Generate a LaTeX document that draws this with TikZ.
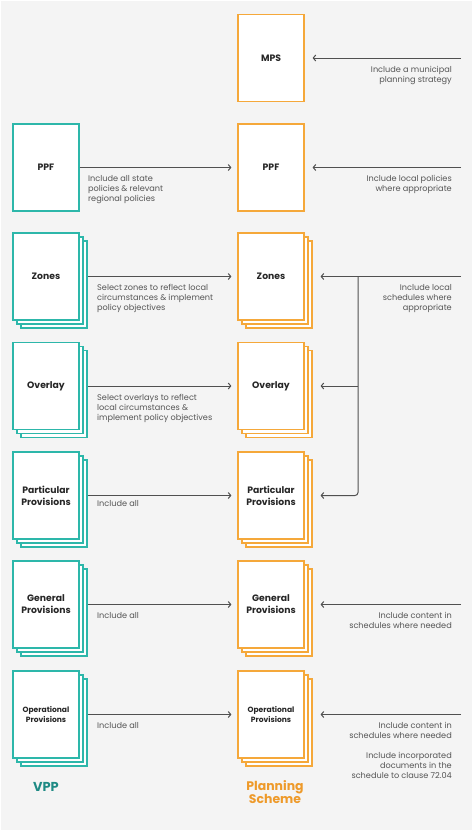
\documentclass[tikz,border=0pt]{standalone}
\usepackage{fontspec}
\setmainfont{Poppins}
\usetikzlibrary{arrows.meta,shadows}
\definecolor{vteal}{HTML}{2DB7AA}
\definecolor{vtealdk}{HTML}{1E8A84}
\definecolor{porange}{HTML}{F5A83A}
\definecolor{porangedk}{HTML}{EE9A2A}
\definecolor{bggray}{HTML}{F4F4F4}
\definecolor{arrgray}{HTML}{505050}
\definecolor{txtgray}{HTML}{555555}
\begin{document}
\begin{tikzpicture}[x=1bp,y=-1bp,
  doc/.style={draw, fill=white, line width=1.2bp, minimum width=66bp, minimum height=87bp, inner sep=0pt, align=center, font=\bfseries\fontsize{9.3}{12}\selectfont, text=black!85},
  vdoc/.style={doc, draw=vteal},
  pdoc/.style={doc, draw=porange},
  vstack/.style={vdoc, double copy shadow={shadow xshift=4bp, shadow yshift=-4bp, draw=vteal, fill=white, line width=1.2bp}},
  pstack/.style={pdoc, double copy shadow={shadow xshift=4bp, shadow yshift=-4bp, draw=porange, fill=white, line width=1.2bp}},
  arr/.style={draw=arrgray, line width=1bp, -{Straight Barb[length=2.5bp,width=6bp]}},
  lbl/.style={text=txtgray, font=\fontsize{8.2}{10}\selectfont, inner sep=0pt, align=left, anchor=north west},
  rlbl/.style={text=txtgray, font=\fontsize{8.2}{10}\selectfont, inner sep=0pt, align=right, anchor=north east},
  small/.style={font=\bfseries\fontsize{7.6}{10}\selectfont}
]
\useasboundingbox (0,0) rectangle (474,833);
\fill[bggray] (1,1) rectangle (472,830);

% boxes
\node[pdoc] (mps) at (271,58) {MPS};
\node[vdoc] (ppfv) at (46,167.5) {PPF};
\node[pdoc] (ppfp) at (271,167.5) {PPF};
\node[vstack] (zv) at (46,276.5) {Zones};
\node[pstack] (zp) at (271,276.5) {Zones};
\node[vstack] (ov) at (46,386) {Overlay};
\node[pstack] (op) at (271,386) {Overlay};
\node[vstack] (prv) at (46,495.5) {Particular\\Provisions};
\node[pstack] (prp) at (271,495.5) {Particular\\Provisions};
\node[vstack] (gv) at (46,604.5) {General\\Provisions};
\node[pstack] (gp) at (271,604.5) {General\\Provisions};
\node[vstack, small] (opv) at (46,714.5) {Operational\\Provisions};
\node[pstack, small] (opp) at (271,714.5) {Operational\\Provisions};

% left-to-right arrows
\draw[arr] (ppfv.east) -- ([xshift=-6bp]ppfp.west);
\draw[arr] ([xshift=8bp]zv.east) -- ([xshift=-6bp]zp.west);
\draw[arr] ([xshift=8bp]ov.east) -- ([xshift=-6bp]op.west);
\draw[arr] ([xshift=8bp]prv.east) -- ([xshift=-6bp]prp.west);
\draw[arr] ([xshift=8bp]gv.east) -- ([xshift=-6bp]gp.west);
\draw[arr] ([xshift=8bp]opv.east) -- ([xshift=-6bp]opp.west);

% right-side sources
\coordinate (smps) at (461,58);
\coordinate (sppf) at (461,167.5);
\coordinate (sz) at (461,276.5);
\coordinate (jz) at (358,276.5);
\coordinate (jo) at (358,386);
\coordinate (sg) at (461,604.5);
\coordinate (sop) at (461,714.5);
\draw[arr] (smps) -- ([xshift=8bp]mps.east);
\draw[arr] (sppf) -- ([xshift=8bp]ppfp.east);
\draw[arr] (sz) -- ([xshift=16bp]zp.east);
\draw[arr] (jo) -- ([xshift=16bp]op.east);
\draw[arr, rounded corners=3bp] (jz) |- ([xshift=16bp]prp.east);
\draw[arr] (sg) -- ([xshift=16bp]gp.east);
\draw[arr] (sop) -- ([xshift=16bp]opp.east);

% left labels
\node[lbl] (t1) at (88,175) {Include all state\\policies \& relevant\\regional policies};
\node[lbl] (t2) at (97,284) {Select zones to reflect local\\circumstances \& implement\\policy objectives};
\node[lbl] (t3) at (97,394) {Select overlays to reflect\\local circumstances \&\\implement policy objectives};
\node[lbl] (t4) at (97,500) {Include all};
\node[lbl] (t5) at (97,612) {Include all};
\node[lbl] (t6) at (97,722) {Include all};

% right labels
\node[rlbl] (r1) at (452,66) {Include a municipal\\planning strategy};
\node[rlbl] (r2) at (452,175) {Include local policies\\where appropriate};
\node[rlbl] (r3) at (452,284) {Include local\\schedules where\\appropriate};
\node[rlbl] (r4) at (452,612) {Include content in\\schedules where needed};
\node[rlbl] (r5) at (452,722) {Include content in\\schedules where needed\\[10bp]Include incorporated\\documents in the\\schedule to clause 72.04};

% column titles
\node[font=\bfseries\fontsize{13}{15}\selectfont, text=vtealdk] (vpp) at (46,787) {VPP};
\node[align=center, font=\bfseries\fontsize{12.5}{12}\selectfont, text=porangedk] (pst) at (275,792) {Planning\\Scheme};
\end{tikzpicture}
\end{document}
